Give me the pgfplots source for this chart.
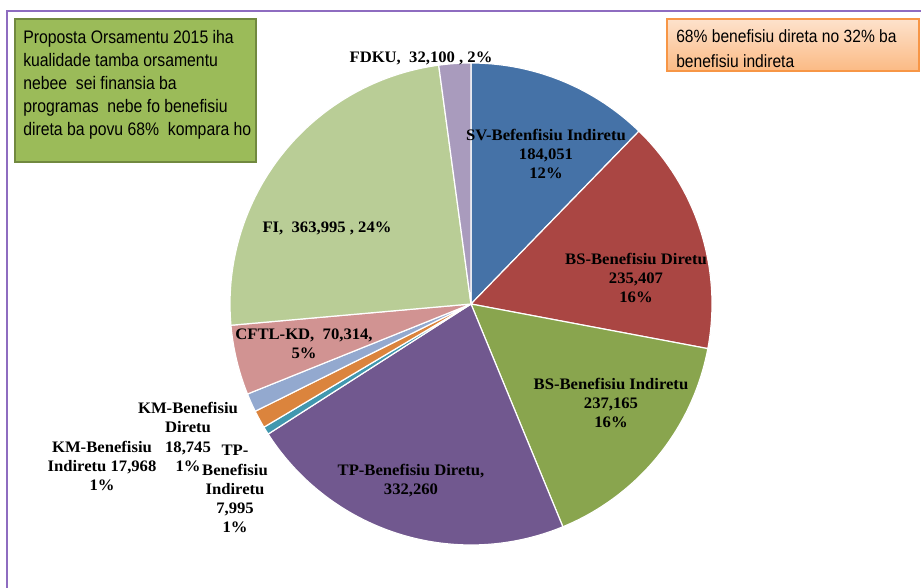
\documentclass[border=0pt]{standalone}
\usepackage{pgfplots}
\usepackage{pgfplotstable}
\pgfplotsset{compat=1.18}
\usepackage{fontspec}
\setmainfont{Liberation Serif}
\newfontfamily\lblfont[FakeStretch=1.04]{Liberation Serif}
\newfontfamily\narrow[FakeStretch=0.88]{Liberation Sans}
\newfontfamily\narrowb[FakeStretch=0.87]{Liberation Sans}
\definecolor{c0}{HTML}{4572A7}
\definecolor{c1}{HTML}{AA4643}
\definecolor{c2}{HTML}{89A54E}
\definecolor{c3}{HTML}{71588F}
\definecolor{c4}{HTML}{4198AF}
\definecolor{c5}{HTML}{DB843D}
\definecolor{c6}{HTML}{93A9CF}
\definecolor{c7}{HTML}{D19392}
\definecolor{c8}{HTML}{B9CD96}
\definecolor{c9}{HTML}{A99BBD}
\definecolor{gbox}{HTML}{9BBB59}
\definecolor{gborder}{HTML}{71893F}
\definecolor{oborder}{HTML}{F79646}
\definecolor{otop}{HTML}{FDE2CC}
\definecolor{obot}{HTML}{FBBA84}
\definecolor{frame}{HTML}{8E6CC0}
\pgfplotstableread{
idx value
0 184051
1 235407
2 237165
3 332260
4 7995
5 17968
6 18745
7 70314
8 363995
9 32100
}\piedata
\begin{document}
\begin{tikzpicture}
% cumulative angles from the data (clockwise from 90 degrees)
\xdef\total{0}
\pgfplotsforeachungrouped \i in {0,...,9}{%
  \pgfplotstablegetelem{\i}{value}\of\piedata
  \pgfkeys{/pgf/fpu=true,/pgf/fpu/output format=fixed}%
  \pgfmathsetmacro\tmp{\total+\pgfplotsretval}%
  \pgfkeys{/pgf/fpu=false}%
  \xdef\total{\tmp}%
}
\xdef\cur{90}
\pgfplotsforeachungrouped \i in {0,...,9}{%
  \pgfplotstablegetelem{\i}{value}\of\piedata
  \pgfkeys{/pgf/fpu=true,/pgf/fpu/output format=fixed}%
  \pgfmathsetmacro\nxt{\cur-360*\pgfplotsretval/\total}%
  \pgfkeys{/pgf/fpu=false}%
  \expandafter\xdef\csname angs\i\endcsname{\nxt}%
  \expandafter\xdef\csname ange\i\endcsname{\cur}%
  \xdef\cur{\nxt}%
}
\begin{axis}[
  name=main,
  scale only axis, width=690.75pt, height=441pt,
  xmin=0, xmax=921, ymin=0, ymax=588,
  hide axis, clip=false,
]
% outer frame
\draw[frame, line width=1.5pt] (axis cs:7,0) -- (axis cs:7,577) -- (axis cs:921,577);
% pie slices
\pgfplotsinvokeforeach{0,...,9}{
  \addplot[fill=c#1, draw=white, line width=0.9pt, line join=round,
    domain=\csname angs#1\endcsname:\csname ange#1\endcsname, samples=90, variable=\t]
    ({471+241*cos(\t)},{284+241*sin(\t)}) -- (axis cs:471,284) -- cycle;
}
% slice labels
\tikzset{lbl/.style={font=\lblfont\bfseries\fontsize{12}{14.3}\selectfont, align=center, inner sep=0pt}}
\node[lbl] at (axis cs:546,434) {SV-Befenfisiu Indiretu\\184,051\\12\%};
\node[lbl] at (axis cs:636,310) {BS-Benefisiu Diretu\\235,407\\16\%};
\node[lbl] at (axis cs:611,185) {BS-Benefisiu Indiretu\\237,165\\16\%};
\node[lbl] at (axis cs:411,107) {TP-Benefisiu Diretu,\\332,260};
\node[lbl] at (axis cs:327,360) {FI,\ \ 363,995 , 24\%};
\node[lbl] at (axis cs:304,244) {CFTL-KD,\ \ 70,314,\\5\%};
\node[lbl] at (axis cs:421,530) {FDKU,\ \ 32,100 , 2\%};
\node[lbl] at (axis cs:188,151) {KM-Benefisiu\\Diretu\\18,745\\1\%};
\node[lbl] at (axis cs:102,122) {KM-Benefisiu\\Indiretu 17,968\\1\%};
\node[lbl] at (axis cs:235,99) {TP-\\Benefisiu\\Indiretu\\7,995\\1\%};
% green text box
\draw[fill=gbox, draw=gborder, line width=1.5pt] (axis cs:15,569) rectangle (axis cs:256,426);
\node[anchor=north west, inner sep=0pt, align=left,
  font=\narrowb\fontsize{13.6}{17.2}\selectfont] at (axis cs:23,558)
  {Proposta Orsamentu 2015 iha\\kualidade tamba orsamentu\\nebee\ \ sei finansia ba\\programas\ \ nebe fo benefisiu\\direta ba povu 68\%\ \ kompara ho};
% orange text box
\shade[top color=otop, bottom color=obot] (axis cs:667,569) rectangle (axis cs:919,517);
\draw[draw=oborder, line width=1.2pt] (axis cs:667,569) rectangle (axis cs:919,517);
\node[anchor=north west, inner sep=0pt, align=left,
  font=\narrow\fontsize{13.3}{18.7}\selectfont] at (axis cs:676,559)
  {68\% benefisiu direta no 32\% ba\\benefisiu indireta};
\end{axis}
\pgfresetboundingbox
\path (main.south west) rectangle (main.north east);
\end{tikzpicture}
\end{document}
